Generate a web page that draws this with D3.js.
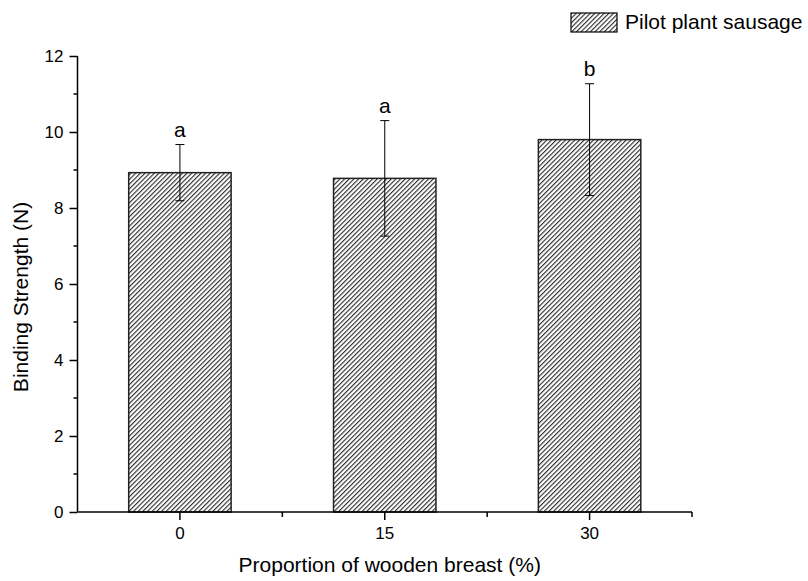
<!DOCTYPE html>
<html>
<head>
<meta charset="utf-8">
<script src="https://cdn.jsdelivr.net/npm/d3@7"></script>
<style>
  body { margin: 0; background: #fff; }
  text { font-family: "Liberation Sans", Arial, sans-serif; fill: #000; }
</style>
</head>
<body>
<div id="chart"></div>
<script>
var width = 808;
var height = 581;

// data
var categories = ["0", "15", "30"];
var means = [8.93, 8.78, 9.80];
var errors = [0.74, 1.52, 1.47];
var letters = ["a", "a", "b"];
var yTicks = [0, 2, 4, 6, 8, 10, 12];
var seriesName = "Pilot plant sausage";

var margin = {left: 77.5, right: 116, top: 56, bottom: 69};

var svg = d3.select("#chart")
  .append("svg")
  .attr("width", width)
  .attr("height", height);

svg.append("rect")
  .attr("width", "100%")
  .attr("height", "100%")
  .attr("fill", "white");

// hatch pattern for the bars
var defs = svg.append("defs");
defs.append("pattern")
  .attr("id", "hatch")
  .attr("patternUnits", "userSpaceOnUse")
  .attr("width", 3.3)
  .attr("height", 10)
  .attr("patternTransform", "rotate(45)")
  .append("line")
  .attr("x1", 0.6).attr("y1", 0)
  .attr("x2", 0.6).attr("y2", 10)
  .attr("stroke", "#111")
  .attr("stroke-width", 1);

var x = d3.scaleBand()
  .domain(categories)
  .range([margin.left, width - margin.right])
  .paddingInner(0.5)
  .paddingOuter(0.25);

var y = d3.scaleLinear()
  .domain([0, 12])
  .range([height - margin.bottom, margin.top]);

// bars
svg.selectAll("rect.bar")
  .data(categories)
  .enter()
  .append("rect")
  .attr("class", "bar")
  .attr("x", function(d) { return x(d); })
  .attr("width", x.bandwidth())
  .attr("y", function(d, i) { return y(means[i]); })
  .attr("height", function(d, i) { return y(0) - y(means[i]); })
  .style("fill", "url(#hatch)")
  .style("stroke", "#222")
  .style("stroke-width", 1.5);

// error bars
var eb = svg.selectAll("g.err")
  .data(categories)
  .enter()
  .append("g")
  .attr("class", "err")
  .attr("stroke", "#000")
  .attr("stroke-width", 1);

eb.append("line")
  .attr("x1", function(d) { return x(d) + x.bandwidth() / 2; })
  .attr("x2", function(d) { return x(d) + x.bandwidth() / 2; })
  .attr("y1", function(d, i) { return y(means[i] + errors[i]); })
  .attr("y2", function(d, i) { return y(means[i] - errors[i]); });

eb.append("line")
  .attr("x1", function(d) { return x(d) + x.bandwidth() / 2 - 4.5; })
  .attr("x2", function(d) { return x(d) + x.bandwidth() / 2 + 4.5; })
  .attr("y1", function(d, i) { return y(means[i] + errors[i]); })
  .attr("y2", function(d, i) { return y(means[i] + errors[i]); });

eb.append("line")
  .attr("x1", function(d) { return x(d) + x.bandwidth() / 2 - 4.5; })
  .attr("x2", function(d) { return x(d) + x.bandwidth() / 2 + 4.5; })
  .attr("y1", function(d, i) { return y(means[i] - errors[i]); })
  .attr("y2", function(d, i) { return y(means[i] - errors[i]); });

// significance letters
svg.selectAll("text.letter")
  .data(categories)
  .enter()
  .append("text")
  .attr("class", "letter")
  .attr("x", function(d) { return x(d) + x.bandwidth() / 2; })
  .attr("y", function(d, i) { return y(means[i] + errors[i]) - 8; })
  .attr("text-anchor", "middle")
  .style("font-size", "21px")
  .text(function(d, i) { return letters[i]; });

// y axis, major + minor ticks
var yAxis = d3.axisLeft(y).tickValues(yTicks).tickSize(8).tickPadding(6);
var gy = svg.append("g")
  .attr("transform", "translate(" + margin.left + ",0)")
  .call(yAxis);
gy.selectAll(".tick line").attr("stroke", "#000").attr("stroke-width", 1.5);
gy.select(".domain").attr("stroke", "#000").attr("stroke-width", 1.5)
  .attr("d", "M0," + y(12) + "V" + y(0));
gy.selectAll("text").style("font-size", "17px").attr("fill", "#000");

var yMinor = d3.range(1, 12, 2);
svg.append("g")
  .selectAll("line")
  .data(yMinor)
  .enter()
  .append("line")
  .attr("x1", margin.left - 4)
  .attr("x2", margin.left)
  .attr("y1", function(d) { return y(d); })
  .attr("y2", function(d) { return y(d); })
  .attr("stroke", "#000")
  .attr("stroke-width", 1.5);

// x axis
var xAxis = d3.axisBottom(x).tickSize(8).tickPadding(7);
var gx = svg.append("g")
  .attr("transform", "translate(0," + y(0) + ")")
  .call(xAxis);
gx.selectAll(".tick line").attr("stroke", "#000").attr("stroke-width", 1.5);
gx.select(".domain").attr("stroke", "#000").attr("stroke-width", 1.5)
  .attr("d", "M" + margin.left + ",0H" + (width - margin.right));
gx.selectAll("text").style("font-size", "17px").attr("fill", "#000");

// minor x ticks at band boundaries
var step = x.step();
var xMinor = categories.map(function(d) { return x(d) + x.bandwidth() / 2 + step / 2; });
svg.append("g")
  .selectAll("line")
  .data(xMinor)
  .enter()
  .append("line")
  .attr("x1", function(d) { return d; })
  .attr("x2", function(d) { return d; })
  .attr("y1", y(0))
  .attr("y2", y(0) + 5)
  .attr("stroke", "#000")
  .attr("stroke-width", 1.5);

// axis titles
svg.append("text")
  .attr("x", (margin.left + width - margin.right) / 2 + 5)
  .attr("y", 572)
  .attr("text-anchor", "middle")
  .style("font-size", "21px")
  .text("Proportion of wooden breast (%)");

svg.append("text")
  .attr("transform", "translate(28,297) rotate(-90)")
  .attr("text-anchor", "middle")
  .style("font-size", "21px")
  .text("Binding Strength (N)");

// legend
var lg = svg.append("g").attr("transform", "translate(571,13)");
lg.append("rect")
  .attr("width", 46)
  .attr("height", 19)
  .style("fill", "url(#hatch)")
  .style("stroke", "#000")
  .style("stroke-width", 1.2);
lg.append("text")
  .attr("x", 54)
  .attr("y", 15.5)
  .style("font-size", "21px")
  .text(seriesName);
</script>
</body>
</html>
